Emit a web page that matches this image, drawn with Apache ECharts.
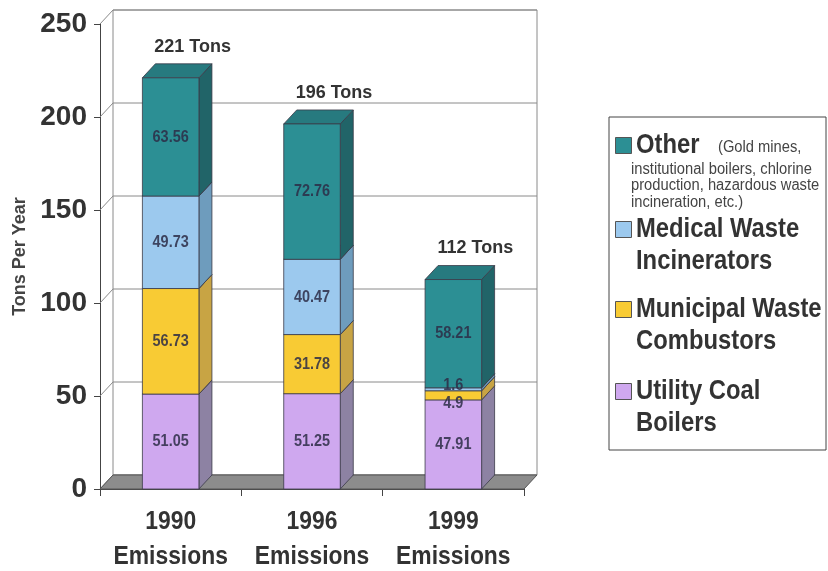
<!DOCTYPE html>
<html>
<head>
<meta charset="utf-8">
<script src="https://cdn.jsdelivr.net/npm/echarts@6/dist/echarts.min.js"></script>
<style>
  html, body { margin: 0; padding: 0; background: #fff; }
  #chart { width: 828px; height: 571px; }
</style>
</head>
<body>
<div id="chart"></div>
<script>
// ---- data ----
const years = ['1990', '1996', '1999'];
const yearSuffix = 'Emissions';
const yTicks = [0, 50, 100, 150, 200, 250];
const utilityCoal = [51.05, 51.25, 47.91];
const municipalWaste = [56.73, 31.78, 4.9];
const medicalWaste = [49.73, 40.47, 1.6];
const otherSources = [63.56, 72.76, 58.21];
const totalTons = [221, 196, 112];
const seriesNames = ['Utility Coal Boilers', 'Municipal Waste Combustors', 'Medical Waste Incinerators', 'Other'];
const legendLines = [['Utility Coal', 'Boilers'], ['Municipal Waste', 'Combustors'], ['Medical Waste', 'Incinerators'], ['Other']];
const otherNote = ['(Gold mines,', 'institutional boilers, chlorine', 'production, hazardous waste', 'incineration, etc.)'];

// ---- look ----
const SANS = "'Liberation Sans', Arial, sans-serif";
const TEXT = '#333333';
const EDGE = '#3a3a48';
const CONDENSE = 0.85;            // horizontal squeeze for the narrow lettering
const DX = 13, DY = -14;          // depth offset of the 3-D box
const BAR_FRACTION = 0.4;         // front face width relative to the category band
const palette = [
  { front: '#cfa8ef', side: '#8d82a3', top: '#b597d6' },
  { front: '#f8cb34', side: '#c8a444', top: '#e0b830' },
  { front: '#9cc9ee', side: '#6e9cbd', top: '#86b4da' },
  { front: '#2c8f94', side: '#216468', top: '#277a7f' }
];
// labels of very thin segments are pushed apart so they stay readable
const thinLabelShift = [0, 8, -4, 0];

const layers = [utilityCoal, municipalWaste, medicalWaste, otherSources];

// cumulative stacking
const stackData = layers.map(() => []);
const base = years.map(() => 0);
layers.forEach((vals, k) => {
  vals.forEach((v, i) => {
    stackData[k].push([i, base[i], base[i] + v, v]);
    base[i] += v;
  });
});

function barRenderer(k) {
  return function (params, api) {
    const ci = api.value(0), lo = api.value(1), hi = api.value(2), v = api.value(3);
    const w = api.size([1, 0])[0] * BAR_FRACTION;
    const pLo = api.coord([ci, lo]);
    const pHi = api.coord([ci, hi]);
    const x0 = pLo[0] - w / 2, x1 = pLo[0] + w / 2;
    const yb = pLo[1], yt = pHi[1];
    const c = palette[k];
    const edge = { stroke: EDGE, lineWidth: 0.8 };
    const h = yb - yt;
    const shift = h < 12 ? thinLabelShift[k] : 0;
    return {
      type: 'group',
      children: [
        { type: 'polygon', shape: { points: [[x1, yb], [x1 + DX, yb + DY], [x1 + DX, yt + DY], [x1, yt]] },
          style: Object.assign({ fill: c.side }, edge) },
        { type: 'polygon', shape: { points: [[x0, yt], [x1, yt], [x1 + DX, yt + DY], [x0 + DX, yt + DY]] },
          style: Object.assign({ fill: c.top }, edge) },
        { type: 'rect', shape: { x: x0, y: yt, width: w, height: h },
          style: Object.assign({ fill: c.front }, edge) },
        { type: 'text', x: (x0 + x1) / 2, y: (yt + yb) / 2 + shift, z2: 100, scaleX: CONDENSE,
          style: { text: String(v), fill: 'rgba(45,45,70,0.85)', font: 'bold 17px ' + SANS,
                   align: 'center', verticalAlign: 'middle' } }
      ]
    };
  };
}

function frameRenderer(params, api) {
  const cs = params.coordSys;
  const L = cs.x, R = cs.x + cs.width, B = cs.y + cs.height, T = cs.y;
  const grid = { stroke: '#8a8a8a', lineWidth: 1 };
  const children = [
    { type: 'rect', shape: { x: L + DX, y: T + DY, width: R - L, height: B - T },
      style: { fill: '#ffffff', stroke: '#8a8a8a', lineWidth: 1 } }
  ];
  yTicks.forEach(t => {
    const y = api.coord([0, t])[1];
    children.push({ type: 'line', shape: { x1: L + DX, y1: y + DY, x2: R + DX, y2: y + DY }, style: grid });
    children.push({ type: 'line', shape: { x1: L, y1: y, x2: L + DX, y2: y + DY }, style: grid });
  });
  children.push({ type: 'polygon',
    shape: { points: [[L, B], [R, B], [R + DX, B + DY], [L + DX, B + DY]] },
    style: { fill: '#8c8c8c', stroke: '#555', lineWidth: 1 } });
  return { type: 'group', children };
}

function totalRenderer(params, api) {
  const ci = api.value(0), top = api.value(1), label = api.value(2);
  const p = api.coord([ci, top]);
  return { type: 'text', x: p[0] + 22, y: p[1] + DY - 17, z2: 100,
    style: { text: label + ' Tons', fill: TEXT, font: 'bold 18px ' + SANS,
             align: 'center', verticalAlign: 'middle' } };
}

// two-line category captions under each bar
function categoryLabelRenderer(params, api) {
  const ci = api.value(0);
  const p = api.coord([ci, 0]);
  const txt = (s, dy) => ({ type: 'text', x: p[0], y: p[1] + dy, scaleX: 0.88,
    style: { text: s, fill: TEXT, font: 'bold 26px ' + SANS, align: 'center', verticalAlign: 'middle' } });
  return { type: 'group', children: [txt(years[ci], 33), txt(yearSuffix, 68)] };
}

// legend drawn as a boxed list, top entry first
function buildLegend() {
  const rowY = [145, 229, 309, 391];
  const children = [
    { type: 'rect', shape: { x: 609, y: 117, width: 217, height: 333 },
      style: { fill: '#fff', stroke: '#444', lineWidth: 1 } }
  ];
  [3, 2, 1, 0].forEach((k, row) => {
    const cy = rowY[row];
    children.push({ type: 'rect', shape: { x: 615.5, y: cy - 7.5, width: 16, height: 16 },
      style: { fill: palette[k].front, stroke: '#555', lineWidth: 1 } });
    legendLines[k].forEach((ln, j) => {
      children.push({ type: 'text', x: 636, y: cy + j * 32, scaleX: CONDENSE,
        style: { text: ln, fill: TEXT, font: 'bold 28px ' + SANS, verticalAlign: 'middle' } });
    });
    if (k === 3) {
      otherNote.forEach((ln, j) => {
        children.push({ type: 'text', x: j === 0 ? 718 : 631, y: j === 0 ? cy + 3 : cy + 8 + j * 16.5,
          scaleX: 0.92,
          style: { text: ln, fill: '#444', font: '16px ' + SANS, verticalAlign: 'middle' } });
      });
    }
  });
  return { type: 'group', children };
}

const chart = echarts.init(document.getElementById('chart'), null, { renderer: 'canvas' });
const series = [
  { type: 'custom', name: 'frame', z: 1, data: [[0, 0]], encode: { x: 0, y: 1 },
    renderItem: frameRenderer, silent: true }
];
stackData.forEach((d, k) => {
  series.push({ type: 'custom', name: seriesNames[k], z: 2, data: d,
    encode: { x: 0, y: [1, 2] }, renderItem: barRenderer(k) });
});
series.push({ type: 'custom', name: 'totals', z: 3,
  data: years.map((y, i) => [i, base[i], totalTons[i]]),
  encode: { x: 0, y: 1 }, renderItem: totalRenderer });
series.push({ type: 'custom', name: 'categories', z: 3, clip: false,
  data: years.map((y, i) => [i, 0]),
  encode: { x: 0, y: 1 }, renderItem: categoryLabelRenderer });

chart.setOption({
  animation: false,
  backgroundColor: '#ffffff',
  grid: { left: 100, top: 24, right: 304, bottom: 82, containLabel: false, outerBoundsMode: 'none' },
  xAxis: {
    type: 'category',
    data: years,
    axisLine: { show: true, lineStyle: { color: '#444', width: 1 } },
    axisTick: { show: true, alignWithLabel: false, length: 7, lineStyle: { color: '#444' } },
    axisLabel: { show: false },
    splitLine: { show: false }
  },
  yAxis: {
    type: 'value', min: 0, max: 250, interval: 50,
    name: 'Tons Per Year', nameLocation: 'middle', nameRotate: 90, nameGap: 69,
    nameTextStyle: { color: '#444', fontFamily: SANS, fontWeight: 'bold', fontSize: 18 },
    axisLine: { show: true, lineStyle: { color: '#444', width: 1 } },
    axisTick: { show: true, length: 6, lineStyle: { color: '#444' } },
    axisLabel: { color: TEXT, fontFamily: SANS, fontWeight: 'bold', fontSize: 28, margin: 13 },
    splitLine: { show: false }
  },
  graphic: [buildLegend()],
  series
});
</script>
</body>
</html>
